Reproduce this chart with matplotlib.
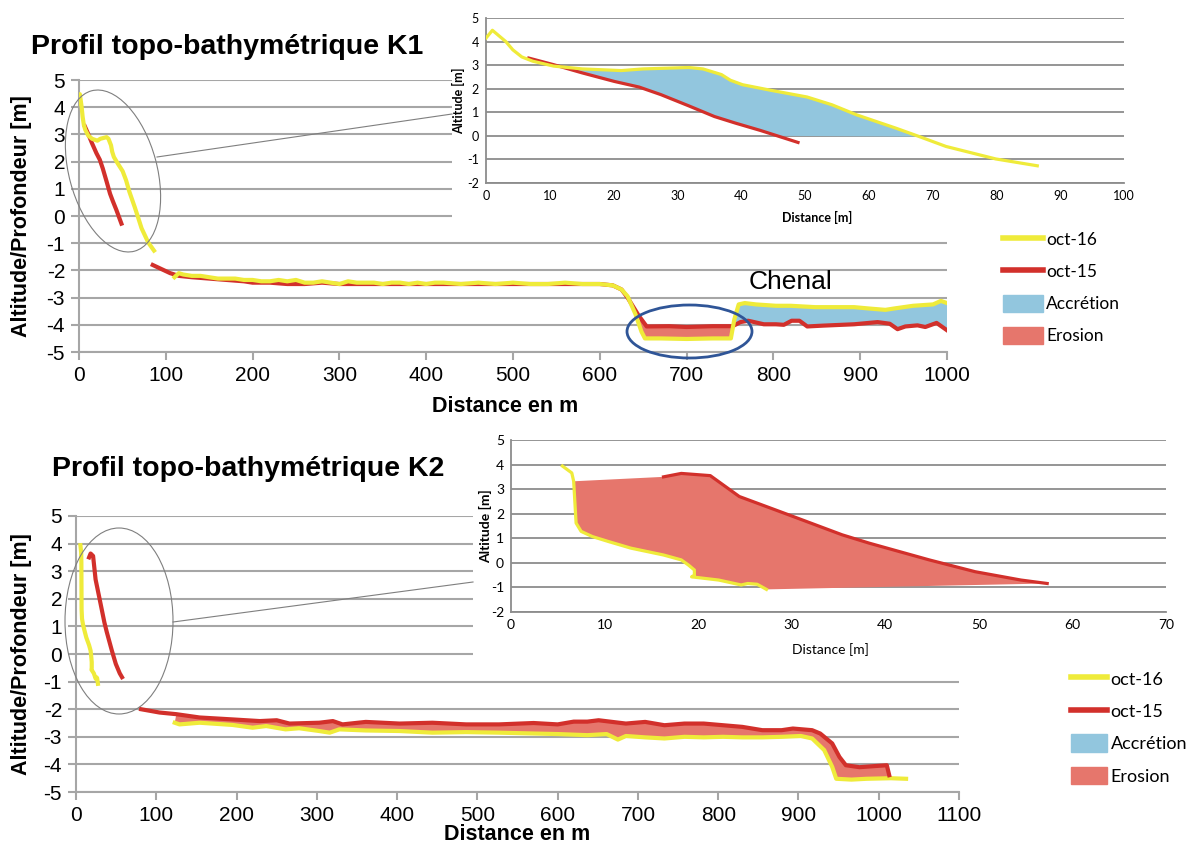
import numpy as np
import matplotlib.pyplot as plt
from matplotlib.patches import Ellipse, Rectangle, Patch
from matplotlib.lines import Line2D

plt.rcParams['axes.unicode_minus'] = False
plt.rcParams['font.family'] = ['Liberation Sans', 'DejaVu Sans']

YEL = '#efeb3a'
RED = '#d2302b'
BLUE = '#92c6de'
SALMON = '#e6766c'
GRID = '#a6a6a6'

# ---- K1 : shore part (also shown zoomed in the inset) ----
k1_shore_x16 = [0, 1, 3.1, 4.2, 5.6, 7.3, 10.6, 15.1, 21.2, 24.6, 31.8, 34, 36.9, 38.3, 40.2,
                44.7, 50.3, 54.2, 58.1, 64.2, 67.9, 72.1, 79.9, 86.4]
k1_shore_y16 = [4.15, 4.48, 4.0, 3.65, 3.35, 3.17, 2.96, 2.84, 2.77, 2.84, 2.9, 2.84, 2.6, 2.36, 2.17,
                1.93, 1.65, 1.32, 0.89, 0.33, -0.03, -0.45, -0.98, -1.27]
k1_shore_x15 = [6.7, 10.6, 15.1, 20.1, 24, 27.4, 31.8, 35.8, 39.1, 43, 48.9]
k1_shore_y15 = [3.3, 3.02, 2.67, 2.31, 2.07, 1.75, 1.27, 0.82, 0.54, 0.23, -0.28]

# ---- K1 : offshore part ----
k1_off_x16 = [110, 115, 120, 130, 140, 150, 160, 170, 180, 190, 200, 210, 220, 230, 240, 250, 260,
              270, 280, 290, 300, 310, 320, 330, 340, 350, 360, 370, 380, 390, 400, 410, 420, 440,
              460, 480, 500, 520, 540, 560, 580, 600, 615, 625, 632, 641, 648, 652, 670, 700, 730,
              751, 755, 760, 767, 780, 803, 820, 848, 870, 893, 910, 929, 939, 961, 984, 993, 1000]
k1_off_y16 = [-2.25, -2.1, -2.15, -2.2, -2.2, -2.25, -2.3, -2.3, -2.3, -2.35, -2.35, -2.4, -2.4,
              -2.35, -2.4, -2.35, -2.45, -2.45, -2.4, -2.45, -2.5, -2.4, -2.45, -2.45, -2.45, -2.5,
              -2.45, -2.45, -2.5, -2.45, -2.5, -2.45, -2.45, -2.5, -2.45, -2.5, -2.45, -2.5, -2.5,
              -2.45, -2.5, -2.5, -2.55, -2.7, -2.95, -3.6, -4.25, -4.5, -4.5, -4.52, -4.5, -4.5,
              -3.8, -3.25, -3.2, -3.25, -3.3, -3.3, -3.35, -3.35, -3.35, -3.4, -3.45, -3.4, -3.3,
              -3.25, -3.12, -3.2]
k1_off_x15 = [85, 95, 105, 115, 130, 150, 170, 190, 200, 220, 240, 260, 280, 300, 320, 340, 360,
              380, 400, 440, 480, 520, 560, 600, 615, 625, 632, 645, 654, 680, 700, 730, 753, 762,
              771, 789, 803, 812, 821, 830, 839, 857, 893, 920, 934, 943, 952, 966, 975, 988, 1000]
k1_off_y15 = [-1.8, -1.95, -2.1, -2.2, -2.25, -2.3, -2.35, -2.4, -2.45, -2.45, -2.5, -2.5, -2.45,
              -2.5, -2.5, -2.5, -2.5, -2.5, -2.5, -2.5, -2.5, -2.5, -2.5, -2.5, -2.55, -2.7, -3.0,
              -3.67, -4.06, -4.05, -4.08, -4.05, -4.05, -3.9, -3.85, -3.98, -3.98, -4.0, -3.85,
              -3.85, -4.06, -4.03, -3.98, -3.9, -3.96, -4.16, -4.06, -4.02, -4.08, -3.93, -4.2]

# ---- K2 : shore part (also shown zoomed in the inset) ----
k2_shore_x16 = [5.5, 6.5, 6.7, 6.96, 7.5, 8.7, 10.4, 12.8, 16.3, 18.2, 18.97, 19.6, 19.6, 19.3,
                22.2, 24.6, 25.3, 26.3, 27.3]
k2_shore_y16 = [3.94, 3.66, 3.32, 1.62, 1.28, 1.07, 0.87, 0.6, 0.32, 0.12, -0.09, -0.29, -0.5,
                -0.57, -0.7, -0.9, -0.84, -0.87, -1.08]
k2_shore_x15 = [16.3, 18.2, 21.3, 24.4, 29.5, 35.4, 38.3, 44.7, 49.6, 54.5, 57.3]
k2_shore_y15 = [3.5, 3.64, 3.55, 2.7, 1.98, 1.14, 0.8, 0.12, -0.36, -0.7, -0.84]

# ---- K2 : offshore part ----
k2_off_x15 = [81, 104, 125, 154, 195, 229, 250, 266, 303, 320, 332, 361, 403, 444, 486, 527, 570,
              600, 620, 637, 651, 685, 709, 733, 758, 782, 806, 830, 855, 879, 893, 917, 927, 942,
              951, 959, 976, 995, 1010, 1013]
k2_off_y15 = [-2.0, -2.12, -2.18, -2.3, -2.37, -2.43, -2.4, -2.52, -2.49, -2.43, -2.55, -2.46,
              -2.52, -2.49, -2.55, -2.55, -2.5, -2.55, -2.45, -2.45, -2.4, -2.52, -2.46, -2.58,
              -2.52, -2.52, -2.58, -2.64, -2.76, -2.76, -2.7, -2.76, -2.88, -3.24, -3.73, -4.03,
              -4.1, -4.06, -4.03, -4.39]
k2_off_x16 = [123, 129, 154, 195, 220, 237, 261, 278, 303, 316, 328, 361, 403, 444, 486, 527, 570,
              600, 637, 661, 675, 685, 709, 733, 758, 782, 806, 830, 855, 879, 903, 917, 932, 942,
              947, 966, 985, 1015, 1034]
k2_off_y16 = [-2.49, -2.55, -2.49, -2.57, -2.67, -2.61, -2.73, -2.69, -2.79, -2.85, -2.73, -2.77,
              -2.79, -2.85, -2.83, -2.85, -2.88, -2.9, -2.94, -2.9, -3.1, -2.97, -3.02, -3.06,
              -3.0, -3.02, -3.0, -3.02, -3.02, -3.0, -2.97, -3.06, -3.48, -4.09, -4.52, -4.55,
              -4.52, -4.5, -4.52]

legend_labels = ['oct-16', 'oct-15', 'Accrétion', 'Erosion']


def band(xa, ya, xb, yb, lo, hi):
    # polygon: series a forward, series b backward, both restricted to [lo, hi]
    xa, ya, xb, yb = map(np.asarray, (xa, ya, xb, yb))
    ma = (xa >= lo) & (xa <= hi)
    mb = (xb >= lo) & (xb <= hi)
    return np.r_[xa[ma], xb[mb][::-1]], np.r_[ya[ma], yb[mb][::-1]]


def style_main(ax, xmax):
    ax.set_xlim(0, xmax)
    ax.set_ylim(-5, 5)
    ax.set_xticks(range(0, xmax + 1, 100))
    ax.set_yticks(range(-5, 6))
    ax.grid(axis='y', color=GRID, lw=1.5)
    ax.set_axisbelow(True)
    for s in ['top', 'right']:
        ax.spines[s].set_visible(False)
    for s in ['left', 'bottom']:
        ax.spines[s].set_color(GRID)
        ax.spines[s].set_linewidth(1.5)
    ax.tick_params(color=GRID, width=1.5, length=6, labelsize=15, pad=4)
    ax.set_xlabel('Distance en m', fontsize=15.5, fontweight='bold')
    ax.set_ylabel('Altitude/Profondeur [m]', fontsize=15.5, fontweight='bold')


def style_inset(ax, xmax, fs):
    ax.set_xlim(0, xmax)
    ax.set_ylim(-2, 5)
    ax.set_xticks(range(0, xmax + 1, 10))
    ax.set_yticks(range(-2, 6))
    ax.grid(axis='y', color='#8c8c8c', lw=1.3)
    ax.set_axisbelow(True)
    for s in ['top', 'right']:
        ax.spines[s].set_visible(False)
    for s in ['left', 'bottom']:
        ax.spines[s].set_color('#8c8c8c')
        ax.spines[s].set_linewidth(1.3)
    ax.tick_params(length=0, labelsize=fs, pad=5)
    for lab in ax.get_xticklabels() + ax.get_yticklabels():
        lab.set_family(['Lato', 'DejaVu Sans'])


fig = plt.figure(figsize=(11.93, 8.46), dpi=100)

ax1 = fig.add_axes([0.0662, 0.5839, 0.7276, 0.3215], zorder=0)
ax2 = fig.add_axes([0.0637, 0.0638, 0.7402, 0.3263], zorder=0)
in1 = fig.add_axes([0.4074, 0.7837, 0.5348, 0.1950], zorder=3)
in2 = fig.add_axes([0.4283, 0.2766, 0.5491, 0.2033], zorder=3)

# white boxes behind the insets (they hide the main grid lines)
for (x0, y0, w, h) in [(4.52, 8.46 - 2.30, 7.41, 2.30), (4.73, 8.46 - 6.68, 7.20, 2.43)]:
    fig.add_artist(Rectangle((x0, y0), w, h, transform=fig.dpi_scale_trans,
                             facecolor='white', edgecolor='none', zorder=1))

# ---- K1 main ----
style_main(ax1, 1000)
px, py = band(k1_off_x16, k1_off_y16, k1_off_x15, k1_off_y15, 753, 1000)
ax1.fill(px, py, color=BLUE, lw=0, zorder=2)
px, py = band(k1_off_x15, k1_off_y15, k1_off_x16, k1_off_y16, 645, 753)
ax1.fill(px, py, color=SALMON, lw=0, zorder=2)
ax1.plot(k1_off_x15, k1_off_y15, color=RED, lw=3, zorder=3)
ax1.plot(k1_off_x16, k1_off_y16, color=YEL, lw=3, zorder=4)
ax1.plot(k1_shore_x15, k1_shore_y15, color=RED, lw=3, zorder=3)
ax1.plot(k1_shore_x16, k1_shore_y16, color=YEL, lw=3, zorder=4)
ax1.yaxis.set_label_coords(-0.054, 0.5)
ax1.xaxis.set_label_coords(0.491, -0.16)
ax1.text(820, -2.43, 'Chenal', fontsize=19, ha='center', va='center')

# ---- K1 inset ----
style_inset(in1, 100, 9)
sx16, sy16 = np.asarray(k1_shore_x16), np.asarray(k1_shore_y16)
sx15, sy15 = np.asarray(k1_shore_x15), np.asarray(k1_shore_y15)
x_zero = np.interp(0, sy15[::-1], sx15[::-1])
m16 = (sx16 >= 10.6) & (sx16 <= 67.9)
m15 = (sx15 >= 10.6) & (sy15 >= 0)
in1.fill(np.r_[sx16[m16], x_zero, sx15[m15][::-1]], np.r_[sy16[m16], 0, sy15[m15][::-1]],
         color=BLUE, lw=0, zorder=2)
in1.plot(k1_shore_x15, k1_shore_y15, color=RED, lw=2.3, zorder=3)
in1.plot(k1_shore_x16, k1_shore_y16, color=YEL, lw=2.3, zorder=4)
in1.set_xlabel('Distance [m]', fontsize=9, fontweight='bold', family=['Lato', 'DejaVu Sans'])
in1.set_ylabel('Altitude [m]', fontsize=9, fontweight='bold', family=['Lato', 'DejaVu Sans'])
in1.yaxis.set_label_coords(-0.033, 0.5)
in1.xaxis.set_label_coords(0.519, -0.17)

# ---- K2 main ----
style_main(ax2, 1100)
px, py = band(k2_off_x16, k2_off_y16, k2_off_x15, k2_off_y15, 123, 1015)
ax2.fill(px, py, color=SALMON, lw=0, zorder=2)
ax2.plot(k2_off_x16, k2_off_y16, color=YEL, lw=3, zorder=3)
ax2.plot(k2_off_x15, k2_off_y15, color=RED, lw=3, zorder=4)
ax2.plot(k2_shore_x16, k2_shore_y16, color=YEL, lw=3, zorder=3)
ax2.plot(k2_shore_x15, k2_shore_y15, color=RED, lw=3, zorder=4)
ax2.yaxis.set_label_coords(-0.050, 0.5)
ax2.xaxis.set_label_coords(0.50, -0.116)

# ---- K2 inset ----
style_inset(in2, 70, 10)
tx16, ty16 = np.asarray(k2_shore_x16), np.asarray(k2_shore_y16)
in2.fill(np.r_[tx16[2:], k2_shore_x15[::-1]], np.r_[ty16[2:], k2_shore_y15[::-1]],
         color=SALMON, lw=0, zorder=2)
in2.plot(k2_shore_x16, k2_shore_y16, color=YEL, lw=2.3, zorder=3)
in2.plot(k2_shore_x15, k2_shore_y15, color=RED, lw=2.3, zorder=4)
in2.set_xlabel('Distance [m]', fontsize=10, family=['Lato', 'DejaVu Sans'])
in2.set_ylabel('Altitude [m]', fontsize=10, fontweight='bold', family=['Lato', 'DejaVu Sans'])
in2.yaxis.set_label_coords(-0.029, 0.5)
in2.xaxis.set_label_coords(0.487, -0.18)

# titles
fig.text(0.026, 1 - 47 / 846, 'Profil topo-bathymétrique K1', fontsize=20.5, fontweight='bold', va='center')
fig.text(0.044, 1 - 469 / 846, 'Profil topo-bathymétrique K2', fontsize=20.5, fontweight='bold', va='center')

# zoom ellipses and connecting lines (figure inches)
tr = fig.dpi_scale_trans
fig.add_artist(Ellipse((1.13, 6.75), 0.88, 1.66, angle=15, transform=tr, fill=False,
                       edgecolor='#7f7f7f', lw=0.8, zorder=5))
fig.add_artist(Line2D([1.57, 4.52], [6.89, 7.32], transform=tr, color='#7f7f7f', lw=0.8, zorder=5))
fig.add_artist(Ellipse((1.19, 2.25), 1.08, 1.86, transform=tr, fill=False,
                       edgecolor='#7f7f7f', lw=0.8, zorder=5))
fig.add_artist(Line2D([1.73, 4.73], [2.24, 2.64], transform=tr, color='#7f7f7f', lw=0.8, zorder=5))
fig.add_artist(Ellipse((6.895, 5.145), 1.25, 0.53, transform=tr, fill=False,
                       edgecolor='#2f5597', lw=2, zorder=5))


# legends
def handles():
    return [Line2D([], [], color=YEL, lw=4), Line2D([], [], color=RED, lw=4),
            Patch(color=BLUE), Patch(color=SALMON)]


fig.legend(handles(), legend_labels, loc='upper left', bbox_to_anchor=(1003 / 1193, 1 - 231 / 846),
           frameon=False, prop={'family': ['Lato', 'DejaVu Sans'], 'size': 12.5},
           handlelength=2.3, handleheight=1.1, handletextpad=0.2, labelspacing=0.85,
           borderpad=0, borderaxespad=0)
fig.legend(handles(), legend_labels, loc='upper left', bbox_to_anchor=(1071 / 1193, 1 - 670 / 846),
           frameon=False, prop={'family': ['Lato', 'DejaVu Sans'], 'size': 13},
           handlelength=2.0, handleheight=1.1, handletextpad=0.2, labelspacing=0.8,
           borderpad=0, borderaxespad=0)

fig.savefig('out.png', dpi=100)
